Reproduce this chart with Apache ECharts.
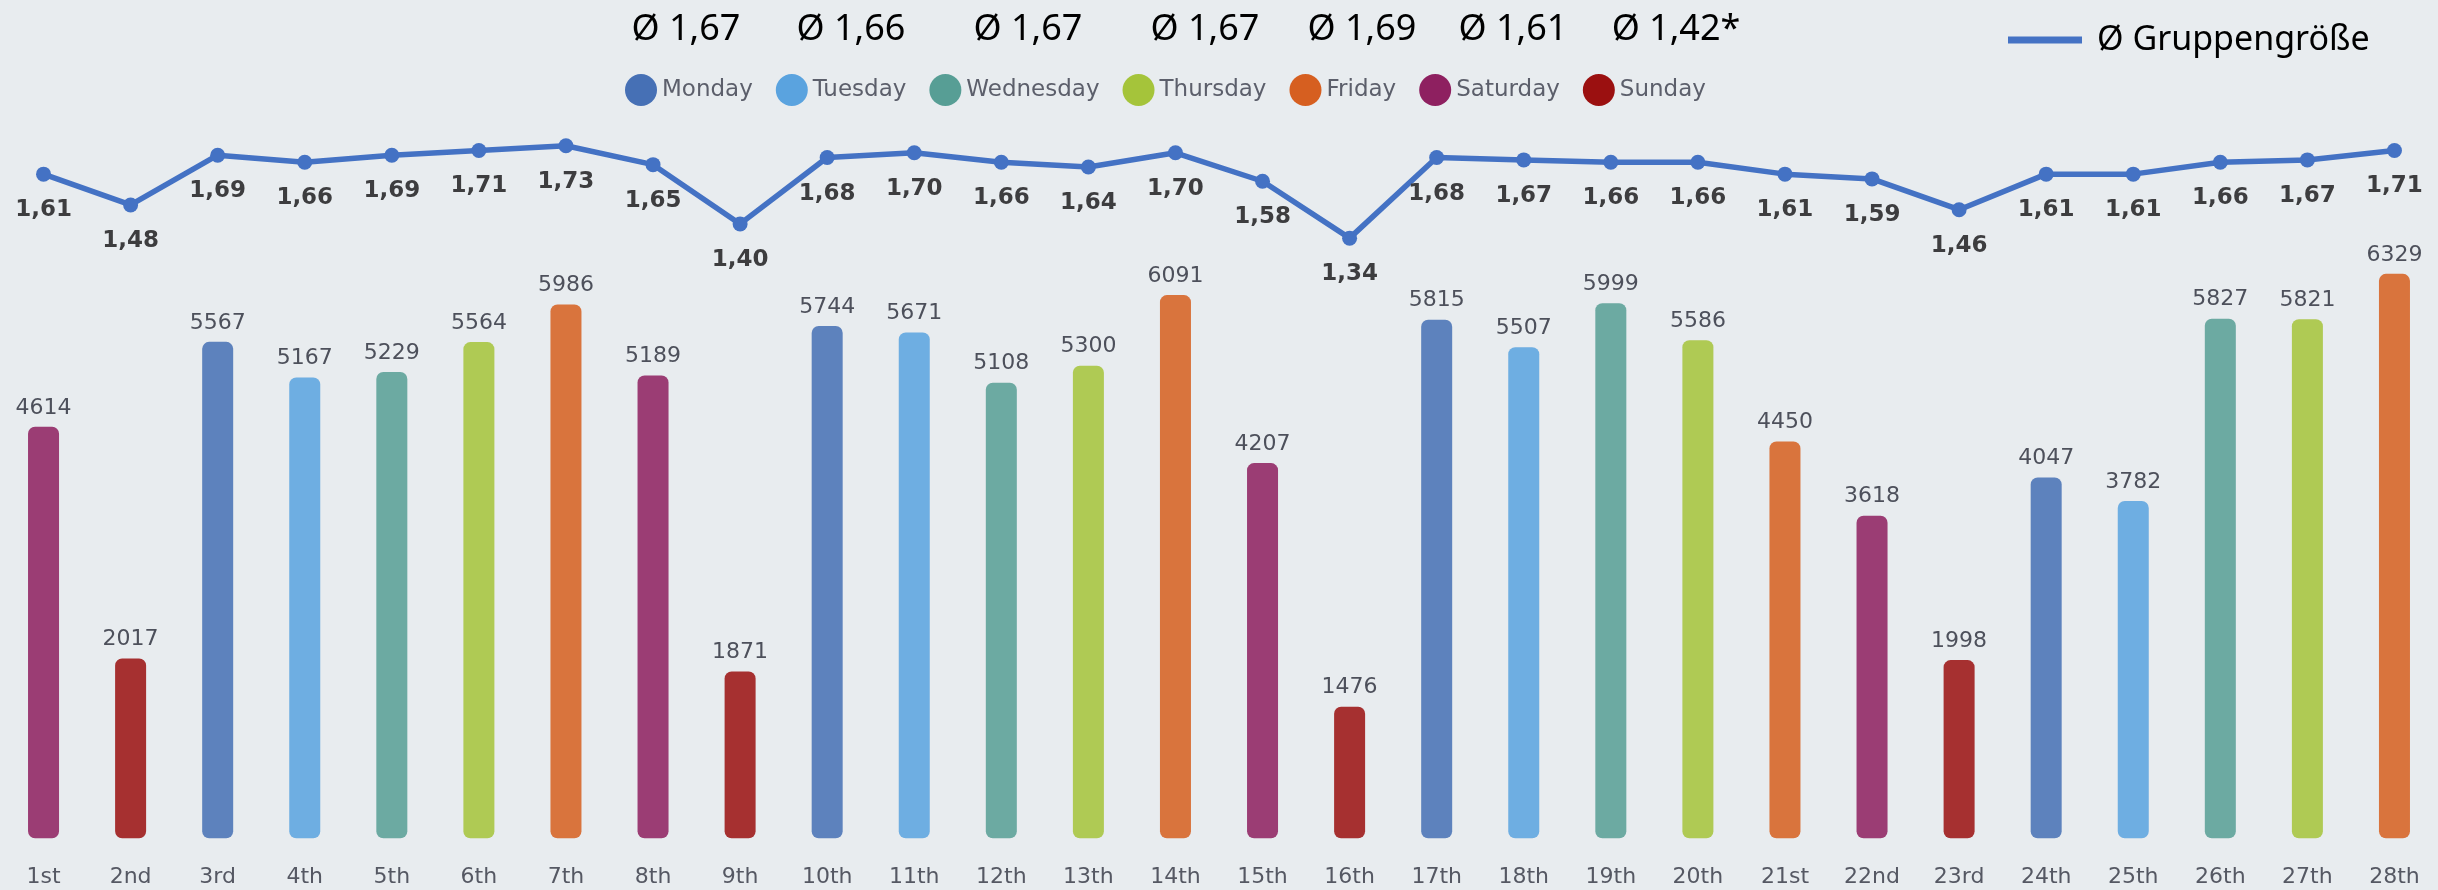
<!DOCTYPE html>
<html>
<head>
<meta charset="utf-8">
<script src="https://cdn.jsdelivr.net/npm/echarts@6/dist/echarts.min.js"></script>
<style>
  html, body { margin: 0; padding: 0; background: #E8ECEF; }
  #chart { width: 2438px; height: 890px; }
</style>
</head>
<body>
<div id="chart"></div>
<script>
// ---- data ----
const categories = ['1st','2nd','3rd','4th','5th','6th','7th','8th','9th','10th','11th','12th','13th','14th',
  '15th','16th','17th','18th','19th','20th','21st','22nd','23rd','24th','25th','26th','27th','28th'];
const weekdays = ['Monday','Tuesday','Wednesday','Thursday','Friday','Saturday','Sunday'];
const dayOfCategory = ['Saturday','Sunday','Monday','Tuesday','Wednesday','Thursday','Friday',
  'Saturday','Sunday','Monday','Tuesday','Wednesday','Thursday','Friday',
  'Saturday','Sunday','Monday','Tuesday','Wednesday','Thursday','Friday',
  'Saturday','Sunday','Monday','Tuesday','Wednesday','Thursday','Friday'];
const visitors = [4614, 2017, 5567, 5167, 5229, 5564, 5986, 5189, 1871, 5744, 5671, 5108, 5300, 6091,
  4207, 1476, 5815, 5507, 5999, 5586, 4450, 3618, 1998, 4047, 3782, 5827, 5821, 6329];
const groupSize = [1.61, 1.48, 1.69, 1.66, 1.69, 1.71, 1.73, 1.65, 1.40, 1.68, 1.70, 1.66, 1.64, 1.70,
  1.58, 1.34, 1.68, 1.67, 1.66, 1.66, 1.61, 1.59, 1.46, 1.61, 1.61, 1.66, 1.67, 1.71];
const weekdayAvgLabels = ['Ø 1,67','Ø 1,66','Ø 1,67','Ø 1,67','Ø 1,69','Ø 1,61','Ø 1,42*'];
const lineSeriesName = 'Ø Gruppengröße';

// ---- styles ----
const dayColors = {
  Monday: [70, 112, 181], Tuesday: [90, 163, 223], Wednesday: [87, 158, 149],
  Thursday: [165, 196, 58], Friday: [214, 95, 32], Saturday: [142, 32, 96], Sunday: [155, 16, 16]
};
const headerX = [686, 851, 1028, 1205, 1362, 1513, 1676];
const rgb = c => 'rgb(' + c.join(',') + ')';
const rgba = (c, a) => 'rgba(' + c.join(',') + ',' + a + ')';

const barSeries = weekdays.map(day => ({
  name: day,
  type: 'bar',
  barWidth: 31,
  barGap: '-100%',
  yAxisIndex: 0,
  data: visitors.map((v, i) => dayOfCategory[i] === day ? v : '-'),
  itemStyle: { color: rgba(dayColors[day], 0.86), borderRadius: 7 },
  label: {
    show: true, position: 'top', distance: 8,
    fontFamily: 'DejaVu Sans', fontSize: 22, color: '#4d505b'
  }
}));

const lineSeries = {
  name: lineSeriesName,
  type: 'line',
  yAxisIndex: 1,
  data: groupSize,
  symbol: 'circle',
  symbolSize: 15,
  z: 5,
  lineStyle: { color: '#4472C4', width: 5.5 },
  itemStyle: { color: '#4472C4' },
  label: {
    show: true, position: 'inside', offset: [0, 36],
    fontFamily: 'DejaVu Sans', fontWeight: 'bold', fontSize: 23, color: '#3d3d3f',
    formatter: p => p.value.toFixed(2).replace('.', ',')
  }
};

const chart = echarts.init(document.getElementById('chart'), null, { renderer: 'canvas' });
chart.setOption({
  backgroundColor: '#E8ECEF',
  animation: false,
  grid: { left: -3, right: -13.5, top: 0, bottom: 51.7, containLabel: false },
  xAxis: {
    type: 'category',
    data: categories,
    axisLine: { show: false },
    axisTick: { show: false },
    axisLabel: { margin: 28, fontFamily: 'DejaVu Sans', fontSize: 22, color: '#555863', interval: 0 }
  },
  yAxis: [
    { type: 'value', min: 0, max: 9400, show: false, splitLine: { show: false } },
    { type: 'value', min: -1.1924, max: 2.3448, show: false, splitLine: { show: false } }
  ],
  legend: [
    {
      left: 620, top: 69,
      icon: 'circle', itemWidth: 32, itemHeight: 32, itemGap: 23,
      selectedMode: false,
      data: weekdays.map(d => ({ name: d, itemStyle: { color: rgb(dayColors[d]), opacity: 1 } })),
      textStyle: { fontFamily: 'DejaVu Sans', fontSize: 23, color: '#5c5f6b' }
    },
    {
      left: 2003, top: 15,
      itemWidth: 74, itemHeight: 7,
      selectedMode: false,
      data: [{ name: lineSeriesName, icon: 'rect', itemStyle: { color: '#4472C4' } }],
      textStyle: { fontFamily: 'Noto Sans', fontSize: 34, color: '#000', lineHeight: 40, padding: [0, 0, 0, 10] }
    }
  ],
  graphic: weekdayAvgLabels.map((t, i) => ({
    type: 'text',
    x: headerX[i], y: 30,
    style: {
      text: t, textAlign: 'center', textVerticalAlign: 'middle',
      font: '36px "Noto Sans"', fill: '#000'
    }
  })),
  series: barSeries.concat([lineSeries])
});
</script>
</body>
</html>
